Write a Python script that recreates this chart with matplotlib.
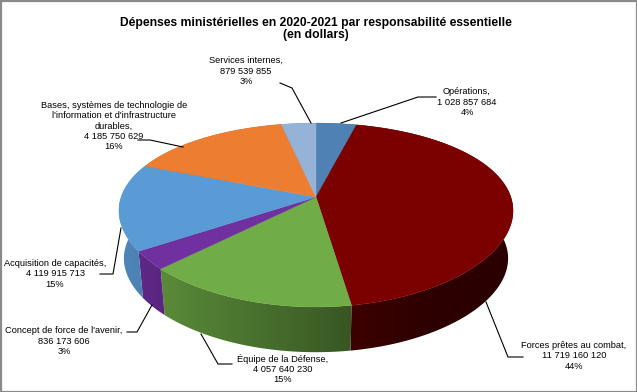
import numpy as np
import matplotlib
matplotlib.use("Agg")
import matplotlib.pyplot as plt
from matplotlib.patches import Polygon, Rectangle

plt.rcParams['font.family'] = ['Liberation Sans', 'DejaVu Sans']

title = "Dépenses ministérielles en 2020-2021 par responsabilité essentielle\n(en dollars)"
categories = ["Opérations", "Forces prêtes au combat", "Équipe de la Défense",
              "Concept de force de l'avenir", "Acquisition de capacités",
              "Bases, systèmes de technologie de\nl'information et d'infrastructure\ndurables",
              "Services internes"]
values = [1028857684, 11719160120, 4057640230, 836173606, 4119915713, 4185750629, 879539855]
amounts = ["1 028 857 684", "11 719 160 120", "4 057 640 230", "836 173 606",
           "4 119 915 713", "4 185 750 629", "879 539 855"]
percents = ["4%", "44%", "15%", "3%", "15%", "16%", "3%"]
colors = ["#4f81b5", "#7b0000", "#70ad47", "#7030a0", "#5b9bd5", "#ed7d31", "#95b3d7"]

label_pos = [(467, 102), (574, 356), (283, 369), (64, 341), (55, 274), (114, 126), (246, 71)]
leaders = [
    [(436, 97), (418, 97), (341, 123)],
    [(523, 357), (508, 357), (486, 302)],
    [(232, 364), (218, 364), (201, 334)],
    [(127, 332), (137, 332), (152, 305)],
    [(100, 274), (113, 274), (121, 228)],
    [(138, 140), (150, 140), (183, 147)],
    [(280, 83), (292, 88), (311, 123)],
]

W, H = 637, 392
fig = plt.figure(figsize=(W / 100, H / 100), dpi=100)
ax = fig.add_axes([0, 0, 1, 1])
ax.set_axis_off()

CX, CY, A, B, KY, KX = 316.0, 197.0, 88.4, 194.8, 0.196, 0.15
DEPTH, RIM = 48.0, 0.975

def rim(theta, f=1.0, d=0.0):
    c, s = np.sin(theta), -np.cos(theta)
    return CX + f * B * c / (1 - KX * s), CY + d + f * A * s / (1 - KY * s)

fractions = np.array(values, dtype=float) / np.sum(values)
edges = np.concatenate([[0], np.cumsum(fractions)]) * 2 * np.pi

xs = np.arange(W) + 0.5
shade = np.interp(xs, [115, 200, 316, 420, 515], [0.88, 0.74, 0.56, 0.38, 0.34])

# side walls (front half only is visible; the top covers the rest)
for i, col in enumerate(colors):
    t = np.linspace(edges[i], edges[i + 1], 120)
    x1, y1 = rim(t)
    x2, y2 = rim(t[::-1], RIM, DEPTH)
    poly = Polygon(np.column_stack([np.r_[x1, x2], np.r_[y1, y2]]), closed=True,
                   transform=ax.transData, facecolor="none", edgecolor="none")
    ax.add_patch(poly)
    rgb = np.array(matplotlib.colors.to_rgb(col))
    img = (shade[None, :, None] * rgb[None, None, :]).clip(0, 1)
    im = ax.imshow(img, extent=(0, W, H, 0), aspect="auto", interpolation="nearest", zorder=2)
    im.set_clip_path(poly)

# top face
for i, col in enumerate(colors):
    t = np.linspace(edges[i], edges[i + 1], 160)
    x, y = rim(t)
    ax.add_patch(Polygon(np.column_stack([np.r_[CX, x], np.r_[CY, y]]), closed=True,
                         facecolor=col, edgecolor=col, linewidth=0.3, zorder=3))

for pts in leaders:
    p = np.array(pts)
    ax.plot(p[:, 0], p[:, 1], color="black", lw=0.8, zorder=4, solid_joinstyle="miter")

for name, amt, pct, (x, y) in zip(categories, amounts, percents, label_pos):
    ax.text(x, y, f"{name},\n{amt}\n{pct}", ha="center", va="center",
            fontsize=6.7, linespacing=1.2, color="black", zorder=5)

ax.text(316, 29, title, ha="center", va="center", fontsize=8.7, fontweight="bold",
        linespacing=1.1, zorder=5)

ax.add_patch(Rectangle((0.5, 0.5), W - 1, H - 1, fill=False, edgecolor="#8a8a8a", lw=1.6, zorder=6))
ax.set_xlim(0, W)
ax.set_ylim(H, 0)
fig.savefig("out.png", dpi=100, facecolor="white")
